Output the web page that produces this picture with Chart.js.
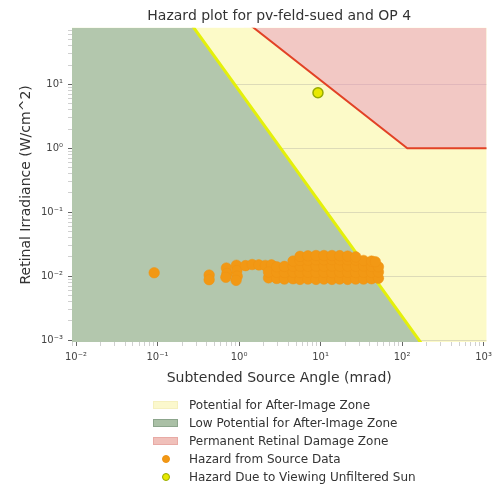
<!DOCTYPE html>
<html>
<head>
<meta charset="utf-8">
<title>Hazard plot for pv-feld-sued and OP 4</title>
<script src="https://cdn.jsdelivr.net/npm/chart.js@4.4.1/dist/chart.umd.min.js"></script>
<style>
  html, body { margin: 0; padding: 0; background: #ffffff; }
  #wrap { position: relative; width: 497px; height: 486px; }
  #legend { position: absolute; left: 153px; top: 396px; font: 12px "DejaVu Sans", sans-serif; color: #333; }
  .row { height: 18px; display: flex; align-items: center; white-space: nowrap; }
  .sw { width: 25px; height: 8px; margin-right: 11px; box-sizing: border-box; }
  .mk { width: 25px; margin-right: 11px; display: flex; justify-content: center; }
  .dot { width: 8px; height: 8px; border-radius: 50%; box-sizing: border-box; }
</style>
</head>
<body>
<div id="wrap">
  <canvas id="chart" width="497" height="486"></canvas>
  <div id="legend"></div>
</div>
<script>
// Axis decades and their labels
const xTicks = [0.01, 0.1, 1, 10, 100, 1000];
const xTickLabels = ['10⁻²', '10⁻¹', '10⁰', '10¹', '10²', '10³'];
const yTicks = [0.001, 0.01, 0.1, 1, 10];
const yTickLabels = ['10⁻³', '10⁻²', '10⁻¹', '10⁰', '10¹'];

// Axis limits (mrad, W/cm^2)
const xLimits = [0.00893, 1086];
const yLimits = [0.000933, 76.6];

// Threshold below which an after-image is unlikely
const afterImageAngle = [0.001, 0.24, 239];
const afterImageIrradiance = [100, 100, 0.0005];

// Threshold for permanent retinal damage
const damageAngle = [1.16, 116, 5000];
const damageIrradiance = [100, 1, 1];

// Viewing the unfiltered sun
const sunAngle = [9.3];
const sunIrradiance = [7.4];

// Glare hazard computed from the source data
const sourceAngle = [
  0.091,
  0.43, 0.43,
  0.70, 0.71, 0.69,
  0.93, 0.94, 0.95, 0.92,
  1.20, 1.45, 1.75, 2.10, 2.50,
  2.3, 2.9, 3.6, 4.6, 5.6, 7.0, 8.8, 11.0, 13.8, 17.2, 21.5, 27.0, 33.7, 42.2, 51.3,
  2.3, 2.9, 3.6, 4.6, 5.6, 7.0, 8.8, 11.0, 13.8, 17.2, 21.5, 27.0, 33.7, 42.2, 51.3,
  2.9, 3.6, 4.6, 5.6, 7.0, 8.8, 11.0, 13.8, 17.2, 21.5, 27.0, 33.7, 42.2, 51.3,
  4.6, 5.6, 7.0, 8.8, 11.0, 13.8, 17.2, 21.5, 27.0, 33.7, 42.2, 47.0,
  5.6, 7.0, 8.8, 11.0, 13.8, 17.2, 21.5, 27.0
];
const sourceIrradiance = [
  0.0113,
  0.0104, 0.0088,
  0.0134, 0.0110, 0.0096,
  0.0148, 0.0122, 0.0100, 0.0086,
  0.0146, 0.0152, 0.0150, 0.0147, 0.0150,
  0.0094, 0.0092, 0.0090, 0.0091, 0.0089, 0.0090, 0.0089, 0.0090, 0.0089, 0.0090, 0.0089, 0.0090, 0.0090, 0.0091, 0.0093,
  0.0116, 0.0115, 0.0114, 0.0115, 0.0114, 0.0115, 0.0114, 0.0115, 0.0114, 0.0115, 0.0115, 0.0114, 0.0115, 0.0115, 0.0116,
  0.0140, 0.0142, 0.0143, 0.0144, 0.0143, 0.0144, 0.0143, 0.0144, 0.0143, 0.0144, 0.0143, 0.0144, 0.0142, 0.0140,
  0.0172, 0.0176, 0.0178, 0.0180, 0.0180, 0.0181, 0.0180, 0.0180, 0.0179, 0.0176, 0.0172, 0.0168,
  0.0204, 0.0208, 0.0210, 0.0210, 0.0210, 0.0209, 0.0206, 0.0200
];

const FONT = '"DejaVu Sans", sans-serif';
const COLORS = {
  potential: 'rgb(252, 250, 200)',
  lowPotential: 'rgb(179, 199, 173)',
  damageFill: 'rgba(230, 140, 190, 0.45)',
  damageLine: 'rgb(226, 66, 38)',
  afterImageLine: 'rgb(228, 240, 10)',
  source: 'rgb(242, 152, 20)',
  sourceEdge: 'rgb(238, 146, 18)',
  sun: 'rgb(232, 232, 0)',
  sunEdge: 'rgb(150, 170, 0)'
};

const toPoints = (xs, ys) => xs.map((x, i) => ({ x: x, y: ys[i] }));
const sameValue = (a, b) => Math.abs(Math.log10(a) - Math.log10(b)) < 1e-6;

// Major decades plus 2..9 minor ticks inside the limits
function logTicks(decades, lo, hi) {
  const out = [];
  decades.forEach(d => {
    for (let m = 1; m <= 9; m++) {
      const v = m * d;
      if (v >= lo && v <= hi) out.push(v);
    }
  });
  const below = decades[0] / 10;
  for (let m = 1; m <= 9; m++) { const v = m * below; if (v >= lo && v <= hi) out.push(v); }
  return out.sort((a, b) => a - b);
}
const isMajor = (v, decades) => decades.some(d => sameValue(d, v));
const labelFor = (v, decades, labels) => {
  const i = decades.findIndex(d => sameValue(d, v));
  return i >= 0 ? labels[i] : '';
};

// Pale yellow zone covers the whole plotting area
const zoneBackground = {
  id: 'zoneBackground',
  beforeDraw(chart) {
    const a = chart.chartArea;
    const ctx = chart.ctx;
    ctx.save();
    ctx.fillStyle = COLORS.potential;
    ctx.fillRect(a.left, a.top, a.right - a.left, a.bottom - a.top);
    ctx.restore();
  }
};

new Chart(document.getElementById('chart'), {
  type: 'scatter',
  data: {
    datasets: [
      {
        label: 'Hazard Due to Viewing Unfiltered Sun',
        data: toPoints(sunAngle, sunIrradiance),
        backgroundColor: COLORS.sun,
        borderColor: COLORS.sunEdge,
        borderWidth: 1.5,
        pointRadius: 5
      },
      {
        label: 'Hazard from Source Data',
        data: toPoints(sourceAngle, sourceIrradiance),
        backgroundColor: COLORS.source,
        borderColor: COLORS.sourceEdge,
        borderWidth: 0.5,
        pointRadius: 5.3
      },
      {
        type: 'line',
        label: 'Permanent Retinal Damage Zone',
        data: toPoints(damageAngle, damageIrradiance),
        borderColor: COLORS.damageLine,
        borderWidth: 2,
        backgroundColor: COLORS.damageFill,
        fill: 'end',
        pointRadius: 0,
        tension: 0,
        clip: 0
      },
      {
        type: 'line',
        label: 'Low Potential for After-Image Zone',
        data: toPoints(afterImageAngle, afterImageIrradiance),
        borderColor: COLORS.afterImageLine,
        borderWidth: 3,
        backgroundColor: COLORS.lowPotential,
        fill: 'start',
        pointRadius: 0,
        tension: 0,
        clip: 0
      }
    ]
  },
  options: {
    responsive: false,
    animation: false,
    events: [],
    layout: { padding: { left: 0, right: 7, top: 0, bottom: 96 } },
    plugins: {
      legend: { display: false },
      tooltip: { enabled: false },
      title: {
        display: true,
        fullSize: false,
        text: 'Hazard plot for pv-feld-sued and OP 4',
        color: '#333',
        font: { family: FONT, size: 14, weight: 'normal' },
        padding: { top: 8, bottom: 3 }
      }
    },
    scales: {
      x: {
        type: 'logarithmic',
        min: xLimits[0],
        max: xLimits[1],
        afterBuildTicks: s => { s.ticks = logTicks(xTicks, xLimits[0], xLimits[1]).map(v => ({ value: v })); },
        afterFit: s => { s.height = 48; },
        border: { display: false },
        grid: {
          drawOnChartArea: false,
          drawTicks: true,
          tickLength: 4,
          tickColor: c => isMajor(c.tick.value, xTicks) ? '#666' : '#bbb',
          tickWidth: c => isMajor(c.tick.value, xTicks) ? 1 : 0.7
        },
        ticks: {
          autoSkip: false,
          maxRotation: 0,
          padding: 5,
          color: '#444',
          font: { family: FONT, size: 10 },
          callback: v => labelFor(v, xTicks, xTickLabels)
        },
        title: {
          display: true,
          text: 'Subtended Source Angle (mrad)',
          color: '#333',
          font: { family: FONT, size: 14 },
          padding: { top: 0, bottom: 3 }
        }
      },
      y: {
        type: 'logarithmic',
        min: yLimits[0],
        max: yLimits[1],
        afterBuildTicks: s => { s.ticks = logTicks(yTicks, yLimits[0], yLimits[1]).map(v => ({ value: v })); },
        afterFit: s => { s.width = 72; },
        border: { display: false },
        grid: {
          drawOnChartArea: true,
          color: c => (c.tick && isMajor(c.tick.value, yTicks)) ? 'rgba(150, 150, 150, 0.3)' : 'rgba(0,0,0,0)',
          drawTicks: true,
          tickLength: 4,
          tickColor: c => isMajor(c.tick.value, yTicks) ? '#666' : '#bbb',
          tickWidth: c => isMajor(c.tick.value, yTicks) ? 1 : 0.7
        },
        ticks: {
          autoSkip: false,
          padding: 5,
          color: '#444',
          font: { family: FONT, size: 10 },
          callback: v => labelFor(v, yTicks, yTickLabels)
        },
        title: {
          display: true,
          text: 'Retinal Irradiance (W/cm^2)',
          color: '#333',
          font: { family: FONT, size: 14 },
          padding: { top: 18, bottom: 0 }
        }
      }
    }
  },
  plugins: [zoneBackground]
});

// Legend entries below the plot
const legendItems = [
  { text: 'Potential for After-Image Zone', kind: 'patch', fill: 'rgb(251, 248, 205)', edge: 'rgb(245, 240, 190)' },
  { text: 'Low Potential for After-Image Zone', kind: 'patch', fill: 'rgb(170, 192, 166)', edge: 'rgb(140, 165, 140)' },
  { text: 'Permanent Retinal Damage Zone', kind: 'patch', fill: 'rgb(240, 192, 186)', edge: 'rgb(232, 170, 165)' },
  { text: 'Hazard from Source Data', kind: 'dot', fill: COLORS.source, edge: COLORS.sourceEdge },
  { text: 'Hazard Due to Viewing Unfiltered Sun', kind: 'dot', fill: COLORS.sun, edge: COLORS.sunEdge }
];
const legend = document.getElementById('legend');
legendItems.forEach(item => {
  const row = document.createElement('div');
  row.className = 'row';
  let handle;
  if (item.kind === 'patch') {
    handle = document.createElement('div');
    handle.className = 'sw';
    handle.style.background = item.fill;
    handle.style.border = '1px solid ' + item.edge;
  } else {
    handle = document.createElement('div');
    handle.className = 'mk';
    const dot = document.createElement('div');
    dot.className = 'dot';
    dot.style.background = item.fill;
    dot.style.border = '1.5px solid ' + item.edge;
    handle.appendChild(dot);
  }
  const label = document.createElement('span');
  label.textContent = item.text;
  row.appendChild(handle);
  row.appendChild(label);
  legend.appendChild(row);
});
</script>
</body>
</html>
